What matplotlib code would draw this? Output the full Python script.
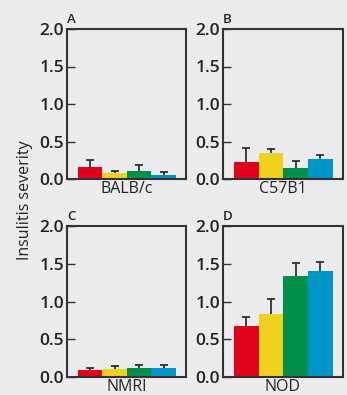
import matplotlib
matplotlib.use("Agg")
import matplotlib.pyplot as plt
import numpy as np

plt.rcParams['font.family'] = ['Open Sans', 'DejaVu Sans']

strains = ["BALB/c", "C57B1", "NMRI", "NOD"]
panel_letters = ["A", "B", "C", "D"]
colors = ["#e2001a", "#f0d21e", "#00904a", "#0095c8"]
yticks = [0.0, 0.5, 1.0, 1.5, 2.0]
ytick_labels = ["0.0", "0.5", "1.0", "1.5", "2.0"]

balbc_mean = [0.16, 0.075, 0.11, 0.06]
balbc_err = [0.10, 0.03, 0.075, 0.03]
c57_mean = [0.23, 0.35, 0.15, 0.27]
c57_err = [0.18, 0.05, 0.09, 0.05]
nmri_mean = [0.09, 0.105, 0.125, 0.125]
nmri_err = [0.035, 0.045, 0.035, 0.035]
nod_mean = [0.67, 0.83, 1.34, 1.40]
nod_err = [0.125, 0.205, 0.17, 0.12]

means = [balbc_mean, c57_mean, nmri_mean, nod_mean]
errs = [balbc_err, c57_err, nmri_err, nod_err]

W, H = 347, 395
fig = plt.figure(figsize=(W / 100, H / 100), dpi=100)
bg = "#ececee"
fig.patch.set_facecolor(bg)
txt = "#222222"

# pixel boxes: left, right, top, bottom
boxes = [(67, 186, 29, 179), (223, 343, 29, 179),
         (67, 186, 226, 377), (223, 343, 226, 377)]

for i, (l, r, t, b) in enumerate(boxes):
    ax = fig.add_axes([l / W, 1 - b / H, (r - l) / W, (b - t) / H])
    ax.set_facecolor(bg)
    x = np.arange(4)
    ax.bar(x, means[i], width=1.0, color=colors, edgecolor='none', zorder=2)
    eb = ax.errorbar(x, means[i], yerr=[np.zeros(4), errs[i]], fmt='none',
                     ecolor=txt, elinewidth=1.2, capsize=3, capthick=1.2, zorder=3)
    eb[1][0].set_visible(False)
    ax.set_xlim(-0.95, 3.92)
    ax.set_ylim(0, 2.0)
    ax.set_yticks(yticks)
    ax.set_yticklabels(ytick_labels)
    ax.set_xticks([])
    ax.tick_params(axis='y', direction='in', length=6, width=1, color='#333333',
                   labelsize=12.5, pad=2, labelcolor=txt)
    for lab in ax.get_yticklabels():
        lab.set_fontweight('semibold')
    for s in ax.spines.values():
        s.set_linewidth(1.5)
        s.set_color('#333333')
    ax.set_xlabel(strains[i], fontsize=11.5, labelpad=1.5, color=txt, fontweight='medium')
    ax.text(0.0, 1.02, panel_letters[i], transform=ax.transAxes, fontsize=9.5,
            ha='left', va='bottom', color=txt, fontweight='semibold')

fig.text(25 / W, 1 - 200 / H, "Insulitis severity", rotation=90, ha='center',
         va='center', fontsize=11.5, color=txt, fontweight='medium')

fig.savefig("out.png", dpi=100, facecolor=bg)
